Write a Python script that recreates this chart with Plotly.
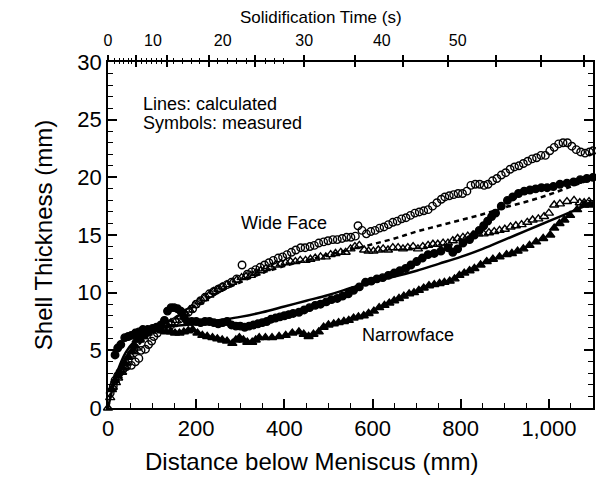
import plotly.graph_objects as go

FONT = "Liberation Sans, Arial, sans-serif"

# ---- data (distance below meniscus in mm, shell thickness in mm) ----
wide_meas_circ_x = [5, 12, 16, 22, 27, 35, 42, 53, 62, 70, 75, 85, 92, 99, 104, 112, 122, 133, 143, 152,
                    162, 172, 182, 192, 200, 210, 220, 230, 240, 250, 260, 270, 280, 292, 304, 316, 326, 335,
                    345, 355, 365, 375, 386, 396, 406, 416, 426, 437, 447, 458, 468, 478, 489, 499, 510, 520,
                    531, 541, 551, 561, 567, 576, 586, 596, 606, 616, 626, 636, 646, 656, 666, 676, 686, 696,
                    706, 716, 726, 736, 746, 756, 764, 774, 784, 794, 804, 814, 823, 833, 843, 853, 862, 872,
                    882, 892, 902, 912, 922, 932, 942, 952, 962, 972, 982, 992, 1002, 1012, 1022, 1032, 1042,
                    1052, 1062, 1072, 1082, 1092, 1100]
wide_meas_circ_y = [1.3, 1.9, 2.4, 2.8, 3.1, 3.4, 3.6, 3.7, 4.0, 4.3, 5.0, 5.1, 5.5, 5.8, 6.2, 6.5, 6.8, 7.0, 7.2, 7.5,
                    7.7, 8.1, 8.3, 8.6, 9.0, 9.3, 9.6, 9.9, 10.1, 10.3, 10.5, 10.7, 10.9, 11.2, 12.4, 11.6, 11.8, 12.0,
                    12.2, 12.4, 12.6, 12.8, 13.0, 13.1, 13.3, 13.5, 13.7, 13.9, 13.9, 14.0, 14.1, 14.3, 14.4, 14.5, 14.6, 14.6,
                    14.7, 14.8, 14.8, 14.9, 15.8, 15.4, 15.1, 15.3, 15.4, 15.6, 15.7, 15.9, 16.1, 16.2, 16.4, 16.5, 16.7, 16.9,
                    17.0, 17.1, 17.2, 17.5, 17.8, 18.1, 18.3, 18.4, 18.5, 18.6, 18.6, 18.8, 19.3, 19.4, 19.4, 19.3, 19.4, 19.7,
                    19.9, 20.2, 20.4, 20.7, 20.9, 21.0, 21.2, 21.4, 21.6, 21.7, 21.9, 21.9, 22.3, 22.6, 22.9, 23.0, 23.0,
                    22.7, 22.4, 22.2, 22.1, 22.2, 22.3]

wide_meas_tri_x = [0, 5, 11, 18, 23, 32, 38, 43, 50, 58, 65, 72, 80, 88, 98, 110, 120, 132, 143, 155, 165, 175,
                   185, 196, 207, 218, 230, 240, 250, 259, 270, 282, 292, 303, 313, 324, 335, 346, 358, 369, 380,
                   392, 403, 414, 425, 436, 448, 459, 470, 482, 494, 505, 516, 528, 539, 550, 560, 570, 581, 591,
                   602, 613, 624, 635, 646, 658, 669, 680, 692, 703, 714, 726, 737, 748, 760, 771, 782, 793, 805,
                   816, 828, 840, 852, 864, 876, 888, 900, 913, 925, 938, 951, 963, 976, 989, 1000, 1012, 1025,
                   1041, 1057, 1070, 1080, 1091]
wide_meas_tri_y = [0.0, 0.9, 1.8, 2.2, 2.6, 3.1, 3.6, 3.9, 4.6, 4.9, 5.2, 5.9, 6.2, 6.5, 6.7, 6.9, 7.1, 7.3, 7.4, 7.6, 7.9, 8.2,
                   8.5, 8.9, 9.2, 9.5, 9.8, 10.1, 10.3, 10.5, 10.7, 10.9, 11.1, 11.3, 11.4, 11.5, 11.7, 11.9, 12.1, 12.2, 12.4,
                   12.5, 12.6, 12.7, 12.7, 12.8, 12.8, 12.9, 13.0, 13.1, 13.1, 13.3, 13.4, 13.5, 13.5, 13.8, 14.0, 14.1, 13.7, 13.6,
                   13.6, 13.7, 13.8, 13.7, 13.9, 13.9, 13.8, 13.9, 14.0, 13.8, 14.0, 14.1, 14.2, 14.2, 14.3, 14.3, 14.5, 14.7, 14.8,
                   14.9, 15.0, 15.1, 15.1, 15.2, 15.3, 15.4, 15.5, 15.7, 15.8, 15.9, 16.1, 16.3, 16.4, 16.6, 16.9, 17.6, 17.7,
                   17.9, 18.0, 17.8, 17.8, 17.9]

narrow_meas_circ_x = [16, 22, 29, 38, 46, 53, 62, 70, 79, 90, 101, 110, 120, 128, 135, 143, 150, 158, 165, 172,
                      180, 190, 200, 210, 220, 230, 240, 250, 260, 270, 280, 290, 300, 310, 320, 330, 340, 350,
                      360, 370, 380, 390, 400, 410, 420, 433, 445, 457, 470, 482, 495, 507, 520, 532, 545, 557,
                      570, 584, 597, 610, 623, 636, 649, 662, 675, 687, 700, 713, 726, 740, 755, 771, 782, 793,
                      805, 820, 831, 842, 852, 861, 870, 879, 892, 906, 918, 931, 944, 957, 970, 983, 996, 1010,
                      1025, 1041, 1056, 1071, 1086, 1100]
narrow_meas_circ_y = [4.6, 5.2, 5.5, 6.1, 6.2, 6.3, 6.5, 6.6, 6.8, 6.8, 6.9, 7.0, 7.2, 7.6, 8.4, 8.7, 8.7, 8.6, 8.4, 7.9,
                      7.5, 7.5, 7.5, 7.4, 7.5, 7.5, 7.4, 7.3, 7.4, 7.5, 7.2, 7.1, 7.1, 7.0, 7.1, 7.2, 7.3, 7.4,
                      7.5, 7.7, 7.8, 7.9, 8.0, 8.1, 8.2, 8.3, 8.5, 8.7, 8.9, 9.0, 9.2, 9.4, 9.5, 9.7, 9.9, 10.2,
                      10.5, 10.9, 11.0, 11.2, 11.3, 11.5, 11.7, 11.9, 12.1, 12.4, 12.7, 13.0, 13.3, 13.4, 13.6, 13.9, 13.5, 13.8,
                      14.3, 14.6, 15.0, 15.4, 15.8, 16.2, 16.6, 16.9, 17.5, 18.0, 18.3, 18.6, 18.8, 18.9, 19.0, 19.1, 19.1, 19.2,
                      19.4, 19.5, 19.6, 19.8, 19.9, 20.0]

narrow_meas_tri_x = [9, 16, 22, 27, 33, 38, 46, 54, 60, 65, 72, 79, 90, 101, 112, 122, 133, 143, 152, 162, 172,
                     182, 192, 203, 214, 225, 237, 248, 259, 270, 282, 290, 298, 307, 316, 327, 335, 343, 357, 372,
                     388, 403, 418, 433, 444, 455, 466, 478, 489, 500, 512, 523, 535, 546, 557, 568, 580, 591, 603,
                     615, 627, 638, 649, 660, 671, 683, 694, 705, 716, 728, 740, 752, 763, 775, 786, 797, 808, 820,
                     831, 845, 859, 873, 888, 904, 916, 929, 942, 956, 971, 987, 1003, 1012, 1024, 1035, 1048, 1064,
                     1080, 1093]
narrow_meas_tri_y = [1.6, 2.4, 2.8, 3.1, 3.5, 3.9, 4.4, 4.9, 5.4, 5.9, 6.0, 6.2, 6.5, 6.8, 6.8, 6.7, 6.6, 6.6, 6.5, 6.5, 6.6,
                     6.7, 6.8, 6.5, 6.3, 6.2, 6.1, 6.0, 5.9, 5.8, 5.6, 5.9, 6.1, 5.9, 5.7, 5.7, 5.9, 6.1, 6.1, 6.1,
                     6.2, 6.3, 6.5, 6.6, 6.4, 6.2, 6.4, 6.6, 7.0, 7.2, 7.3, 7.4, 7.5, 7.6, 7.8, 7.9, 8.0, 8.2, 8.4,
                     8.7, 8.9, 9.1, 9.3, 9.5, 9.7, 9.9, 10.0, 10.2, 10.4, 10.6, 10.7, 10.8, 10.9, 11.0, 11.2, 11.5, 11.7, 11.9,
                     12.1, 12.4, 12.7, 12.9, 13.1, 13.3, 13.4, 13.6, 13.8, 14.1, 14.4, 14.7, 15.0, 15.6, 16.0, 16.3, 16.7, 17.2,
                     17.6, 17.6]

wide_calc_x = [0, 20, 50, 100, 150, 200, 250, 300, 350, 400, 450, 500, 560, 600, 650, 700, 750, 800, 850, 900,
               950, 1000, 1050, 1100]
wide_calc_y = [0.0, 2.8, 4.6, 6.6, 7.8, 8.9, 10.0, 10.9, 11.7, 12.3, 12.8, 13.3, 13.8, 14.2, 14.7, 15.3, 15.8, 16.3,
               16.8, 17.4, 17.9, 18.5, 19.2, 19.9]

narrow_calc_x = [0, 20, 40, 60, 80, 100, 150, 200, 250, 300, 350, 400, 450, 500, 550, 600, 650, 700, 750, 800,
                 850, 900, 950, 1000, 1050, 1100]
narrow_calc_y = [0.0, 3.0, 4.8, 5.8, 6.4, 6.8, 7.1, 7.3, 7.6, 7.9, 8.3, 8.8, 9.3, 9.8, 10.4, 11.0, 11.4, 11.9,
                 12.5, 13.1, 13.8, 14.6, 15.4, 16.2, 17.0, 17.8]

# top axis (solidification time), positions expressed on the distance scale
top_label_pos = [0, 102, 260, 445, 621, 793]
top_labels = ["0", "10", "20", "30", "40", "50"]
top_major_ticks = [0, 63, 133, 228, 334, 445, 560, 668, 771, 880, 981, 1080]
top_minor_ticks = [14, 25, 36, 47, 54, 76, 87, 98, 110, 121, 149, 169, 189, 208, 248, 271, 291, 313, 358, 377, 399]

fig = go.Figure()

def add_markers(x, y, symbol, size=8):
    fig.add_trace(go.Scatter(x=x, y=y, mode="markers", showlegend=False, cliponaxis=False,
                             marker=dict(symbol=symbol, size=size, color="black",
                                         line=dict(color="black", width=1.4))))

add_markers(wide_meas_circ_x, wide_meas_circ_y, "circle-open", 7.5)
add_markers(wide_meas_tri_x, wide_meas_tri_y, "triangle-up-open", 8)
add_markers(narrow_meas_circ_x, narrow_meas_circ_y, "circle", 7.5)
add_markers(narrow_meas_tri_x, narrow_meas_tri_y, "triangle-up", 8)

fig.add_trace(go.Scatter(x=wide_calc_x, y=wide_calc_y, mode="lines", showlegend=False,
                         line=dict(color="black", width=2.5, dash="5px,4px", shape="spline")))
fig.add_trace(go.Scatter(x=narrow_calc_x, y=narrow_calc_y, mode="lines", showlegend=False,
                         line=dict(color="black", width=2.5, shape="spline")))

# empty traces so the extra top axes are created
for ax in ["x2", "x3", "x4"]:
    fig.add_trace(go.Scatter(x=[], y=[], xaxis=ax, yaxis="y", showlegend=False, hoverinfo="skip"))

tick_font = dict(family=FONT, size=22, color="black")

fig.update_layout(
    width=596, height=477,
    margin=dict(l=108, r=1, t=62, b=69),
    paper_bgcolor="white", plot_bgcolor="white",
    font=dict(family=FONT, color="black"),
    xaxis=dict(range=[0, 1100], showgrid=False, zeroline=False, showline=True, linecolor="black", linewidth=1.5,
               tickmode="array", tickvals=[0, 200, 400, 600, 800, 1000], tickformat=",d",
               ticks="inside", ticklen=9, tickwidth=1.5, tickcolor="black", tickfont=tick_font,
               minor=dict(dtick=50, tick0=0, ticks="inside", ticklen=5, tickwidth=1.3, tickcolor="black")),
    xaxis2=dict(range=[0, 1100], overlaying="x", side="top", anchor="y", showgrid=False, zeroline=False,
                showline=True, linecolor="black", linewidth=1.5, showticklabels=False,
                tickmode="array", tickvals=top_major_ticks, ticks="outside", ticklen=5, tickwidth=1.5,
                tickcolor="black",
                minor=dict(tickmode="array", tickvals=top_minor_ticks, ticks="outside", ticklen=2,
                           tickwidth=1.3, tickcolor="black")),
    xaxis3=dict(range=[0, 1100], overlaying="x", side="top", anchor="y", showgrid=False, zeroline=False,
                showline=False, showticklabels=False,
                tickmode="array", tickvals=top_major_ticks, ticks="inside", ticklen=5, tickwidth=1.5,
                tickcolor="black",
                minor=dict(tickmode="array", tickvals=top_minor_ticks, ticks="inside", ticklen=2,
                           tickwidth=1.3, tickcolor="black")),
    xaxis4=dict(range=[0, 1100], overlaying="x", side="top", anchor="y", showgrid=False, zeroline=False,
                showline=False, tickmode="array", tickvals=top_label_pos, ticktext=top_labels, ticks="",
                ticklabelstandoff=12, tickfont=dict(family=FONT, size=16, color="black")),
    yaxis=dict(range=[0, 30], showgrid=False, zeroline=False, showline=True, linecolor="black", linewidth=1.5,
               mirror="ticks", dtick=5, tick0=0, ticks="inside", ticklen=9, tickwidth=1.5, tickcolor="black",
               tickfont=tick_font,
               title=dict(text="Shell Thickness (mm)", font=dict(family=FONT, size=24, color="black"), standoff=18),
               minor=dict(dtick=1, tick0=0, ticks="inside", ticklen=5, tickwidth=1.3, tickcolor="black")),
)

annots = [
    dict(text="Distance below Meniscus (mm)", xref="paper", yref="paper", x=(312 - 108) / 487, y=-0.155,
         xanchor="center", yanchor="middle", showarrow=False, font=dict(family=FONT, size=24, color="black")),
    dict(text="Solidification Time (s)", xref="paper", yref="paper", x=(322 - 108) / 487, y=(408 - 18) / 346,
         xanchor="center", yanchor="middle", showarrow=False, font=dict(family=FONT, size=17, color="black")),
    dict(text="Lines: calculated", xref="x", yref="y", x=74, y=26.4, xanchor="left", yanchor="middle",
         showarrow=False, font=dict(family=FONT, size=18, color="black")),
    dict(text="Symbols: measured", xref="x", yref="y", x=74, y=24.7, xanchor="left", yanchor="middle",
         showarrow=False, font=dict(family=FONT, size=18, color="black")),
    dict(text="Wide Face", xref="x", yref="y", x=400, y=16.0, xanchor="center", yanchor="middle",
         showarrow=False, font=dict(family=FONT, size=18, color="black")),
    dict(text="Narrowface", xref="x", yref="y", x=680, y=6.3, xanchor="center", yanchor="middle",
         showarrow=False, font=dict(family=FONT, size=18, color="black")),
]
fig.update_layout(annotations=annots)

fig.write_html("out.html")
